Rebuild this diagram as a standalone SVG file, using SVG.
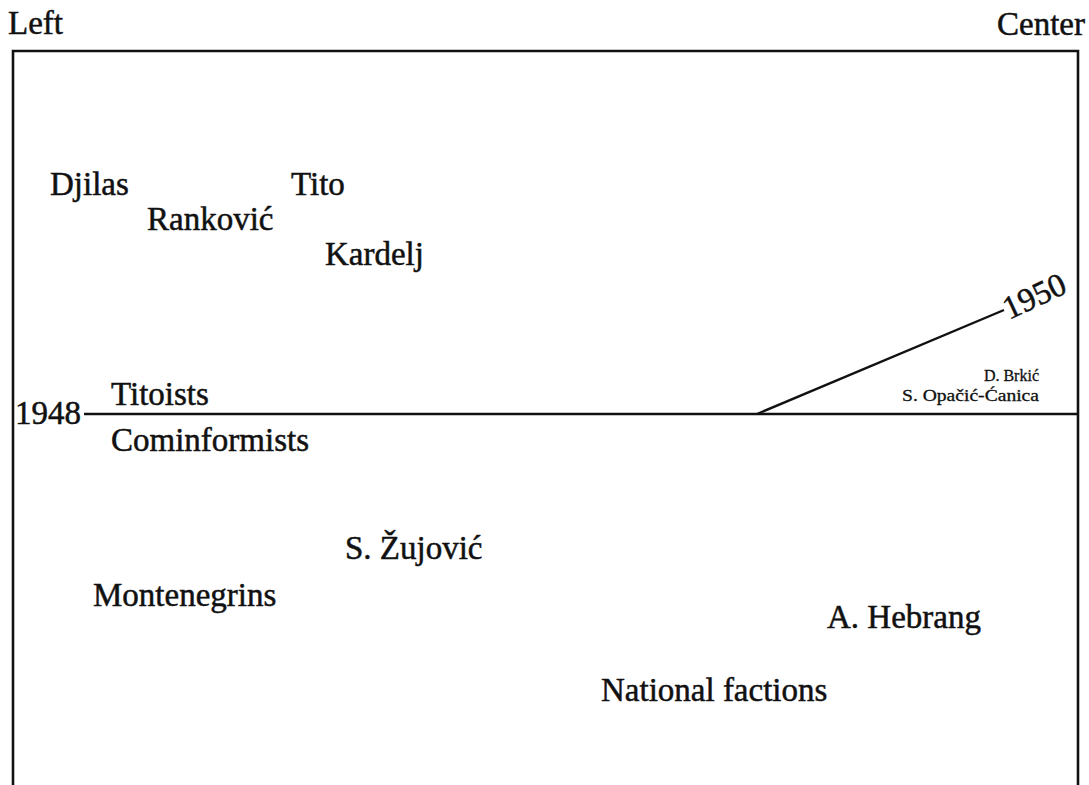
<svg xmlns="http://www.w3.org/2000/svg" width="1089" height="785" viewBox="0 0 1089 785">
<style>
text{font-family:"Liberation Serif","Times New Roman",serif;fill:#111;font-size:33px;stroke:#111;stroke-width:0.5}
.small{font-size:16px;stroke-width:0.3}
.ln{stroke:#111;fill:none}
</style>
<rect width="1089" height="785" fill="#fff"/>
<g id="frame">
<path class="ln" d="M13,785 V51 H1078 V785" stroke-width="2.6"/>
</g>
<g id="axis-labels">
<text x="8" y="34">Left</text>
<text x="1085" y="35" text-anchor="end">Center</text>
</g>
<g id="connectors">
<line class="ln" x1="84" y1="414" x2="1078" y2="414" stroke-width="2.4"/>
<line class="ln" x1="757" y1="414" x2="1004" y2="310" stroke-width="2.4"/>
</g>
<g id="year-1948"><text x="15" y="424">1948</text></g>
<g id="year-1950"><text transform="translate(1009,320) rotate(-25)" textLength="66" lengthAdjust="spacingAndGlyphs">1950</text></g>
<g id="djilas"><text x="50" y="195">Djilas</text></g>
<g id="tito"><text x="291" y="195">Tito</text></g>
<g id="rankovic"><text x="147" y="230">Ranković</text></g>
<g id="kardelj"><text x="325" y="265">Kardelj</text></g>
<g id="titoists"><text x="111" y="405">Titoists</text></g>
<g id="cominformists"><text x="111" y="451">Cominformists</text></g>
<g id="brkic"><text class="small" x="1039" y="381" text-anchor="end">D. Brkić</text></g>
<g id="opacic"><text class="small" x="902" y="401" textLength="137" lengthAdjust="spacingAndGlyphs">S. Opačić-Ćanica</text></g>
<g id="zujovic"><text x="345" y="559">S. Žujović</text></g>
<g id="montenegrins"><text x="93" y="606">Montenegrins</text></g>
<g id="hebrang"><text x="827" y="628">A. Hebrang</text></g>
<g id="national"><text x="601" y="701">National factions</text></g>
</svg>
